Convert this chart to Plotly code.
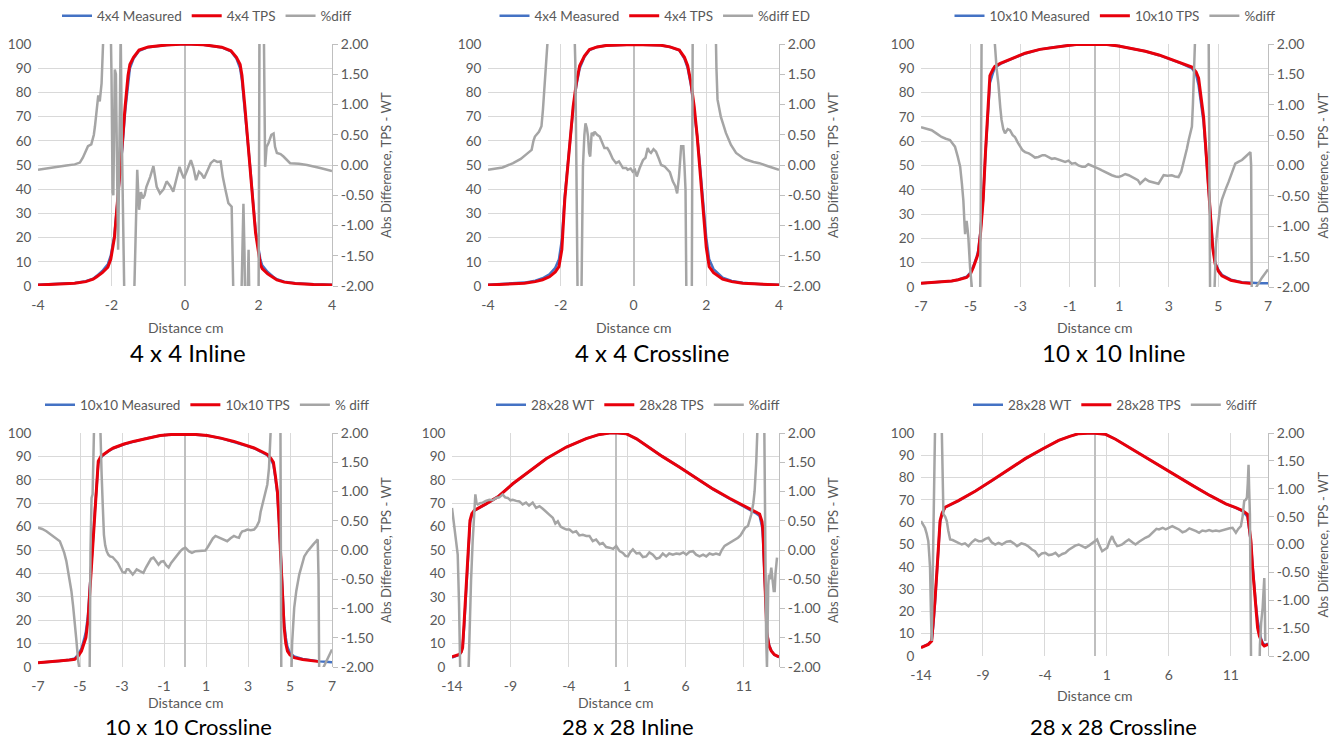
import plotly.graph_objects as go

# ---------------- DATA ----------------
# Panel 1: 4 x 4 Inline  (x cm, relative dose %)
p1_tps = [(-4.0,0.4),(-3.5,0.6),(-3.0,1.1),(-2.7,1.8),(-2.5,2.8),(-2.4,3.8),(-2.25,5.5),(-2.1,7.8),(-2.02,11),(-1.92,20),
          (-1.85,32),(-1.78,46),(-1.7,60),(-1.63,74),(-1.55,87),(-1.5,91.5),(-1.4,94.5),(-1.25,97.5),(-1.0,98.8),(-0.5,99.6),
          (0,100),(0.5,99.7),(1.0,98.7),(1.25,97.2),(1.4,94.5),(1.5,91.5),(1.55,87),(1.63,74),(1.7,62),(1.78,48),
          (1.85,34),(1.92,22),(2.0,14),(2.05,9),(2.1,7.2),(2.25,5),(2.4,3.5),(2.5,2.5),(2.7,1.6),(3.0,1.0),(3.5,0.6),(4.0,0.4)]
p1_meas = [(-4.0,0.5),(-3.5,0.7),(-3.0,1.2),(-2.7,2.0),(-2.5,3.0),(-2.4,4.2),(-2.25,6.2),(-2.1,9.0),(-2.02,12.5),(-1.92,21),
           (-1.85,32),(-1.78,45),(-1.7,58),(-1.63,72),(-1.55,85),(-1.5,90),(-1.4,94),(-1.25,97.2),(-1.0,98.7),(-0.5,99.6),
           (0,100),(0.5,99.7),(1.0,98.6),(1.25,97),(1.4,94),(1.5,90),(1.55,85),(1.63,73),(1.7,61),(1.78,48),
           (1.85,35),(1.92,23),(2.0,15.5),(2.05,11),(2.1,8.5),(2.25,5.8),(2.4,3.8),(2.5,2.8),(2.7,1.8),(3.0,1.1),(3.5,0.7),(4.0,0.5)]
p1_diff = [(-4.0,-0.08),(-3.6,-0.05),(-3.23,-0.01),(-3.0,0.01),(-2.86,0.04),(-2.78,0.12),(-2.73,0.2),(-2.64,0.31),(-2.55,0.34),
           (-2.48,0.5),(-2.45,0.64),(-2.38,1.05),(-2.36,1.15),(-2.32,1.05),(-2.27,1.35),(-2.23,2.0),(-2.2,2.6),(-2.03,2.6),
           (-2.0,1.5),(-1.97,-0.45),(-1.95,-0.5),(-1.91,1.58),(-1.88,1.5),(-1.85,0.0),(-1.82,-1.4),(-1.78,0.5),(-1.75,2.2),
           (-1.72,0.5),(-1.68,-1.2),(-1.64,-2.6),(-1.4,-2.6),(-1.36,-1.5),(-1.3,-0.08),(-1.25,-0.74),(-1.2,-0.45),(-1.15,-0.55),
           (-1.1,-0.5),(-1.05,-0.36),(-0.95,-0.2),(-0.86,-0.02),(-0.77,-0.36),(-0.68,-0.47),(-0.58,-0.4),(-0.5,-0.27),
           (-0.4,-0.35),(-0.32,-0.44),(-0.22,-0.2),(-0.15,-0.03),(-0.08,-0.15),(-0.03,-0.22),(0.05,-0.1),(0.16,0.08),
           (0.23,-0.05),(0.3,-0.25),(0.38,-0.11),(0.45,-0.15),(0.52,-0.22),(0.6,-0.1),(0.7,0.03),(0.79,0.08),(0.88,0.05),
           (0.97,0.06),(1.03,-0.2),(1.1,-0.41),(1.18,-0.63),(1.27,-0.69),(1.3,-1.5),(1.33,-2.6),(1.52,-2.6),(1.56,-1.2),
           (1.59,-0.64),(1.62,-1.5),(1.64,-2.6),(1.7,-2.2),(1.73,-1.4),(1.76,-2.6),(2.0,-2.6),(2.03,2.6),(2.14,2.6),
           (2.18,-0.03),(2.22,0.3),(2.27,0.36),(2.35,0.5),(2.41,0.52),(2.45,0.3),(2.5,0.2),(2.6,0.18),(2.68,0.14),
           (2.78,0.08),(2.86,0.03),(3.1,0.02),(3.32,0.0),(3.68,-0.05),(4.0,-0.1)]

# Panel 2: 4 x 4 Crossline
p2_tps = [(-4.0,0.4),(-3.5,0.6),(-3.0,1.1),(-2.7,1.8),(-2.5,2.6),(-2.31,3.8),(-2.15,5.8),(-2.05,8),(-1.97,15),(-1.89,35.6),
          (-1.8,52),(-1.72,66),(-1.66,74),(-1.57,84),(-1.48,91),(-1.35,95),(-1.21,97.7),(-1.0,98.8),(-0.75,99.4),(0,99.8),
          (0.75,99.5),(1.0,98.8),(1.26,97.5),(1.4,94.5),(1.49,91),(1.58,84),(1.67,74),(1.75,62),(1.82,50),(1.9,35.6),
          (2.0,16),(2.08,8),(2.2,5.5),(2.45,2.8),(2.7,1.8),(3.0,1.1),(3.5,0.6),(4.0,0.4)]
p2_meas = [(-4.0,0.5),(-3.5,0.8),(-3.0,1.4),(-2.7,2.2),(-2.5,3.2),(-2.31,4.8),(-2.15,7.5),(-2.05,11),(-1.97,19),(-1.89,37),
           (-1.8,52),(-1.72,65),(-1.66,73),(-1.57,83),(-1.48,90),(-1.35,94.6),(-1.21,97.5),(-1.0,98.8),(-0.75,99.4),(0,99.8),
           (0.75,99.5),(1.0,98.8),(1.26,97.4),(1.4,94),(1.49,90),(1.58,83),(1.67,73),(1.75,62),(1.82,51),(1.9,38),
           (2.0,20),(2.08,11),(2.2,7),(2.45,3.4),(2.7,2.1),(3.0,1.3),(3.5,0.7),(4.0,0.5)]
p2_diff = [(-4.0,-0.08),(-3.6,-0.04),(-3.31,0.03),(-3.1,0.1),(-2.94,0.18),(-2.8,0.25),(-2.75,0.4),(-2.71,0.47),(-2.6,0.55),
           (-2.53,0.64),(-2.49,0.91),(-2.44,1.3),(-2.39,1.74),(-2.35,2.0),(-2.3,2.6),(-1.64,2.6),(-1.62,2.0),(-1.6,1.7),
           (-1.57,0.0),(-1.53,-2.6),(-1.44,-2.6),(-1.39,-0.03),(-1.35,0.5),(-1.32,0.69),(-1.28,0.6),(-1.25,0.47),(-1.22,0.2),
           (-1.19,0.14),(-1.15,0.53),(-1.1,0.5),(-1.07,0.55),(-1.0,0.5),(-0.93,0.47),(-0.85,0.35),(-0.8,0.28),(-0.72,0.28),
           (-0.66,0.22),(-0.57,0.1),(-0.48,0.03),(-0.4,0.06),(-0.29,-0.05),(-0.2,-0.05),(-0.16,-0.08),(-0.08,-0.06),
           (-0.02,-0.11),(0.04,-0.08),(0.09,-0.19),(0.17,-0.05),(0.26,0.08),(0.33,0.12),(0.39,0.28),(0.44,0.22),(0.48,0.2),
           (0.55,0.26),(0.62,0.22),(0.7,0.1),(0.76,0.0),(0.85,-0.02),(0.94,-0.08),(1.0,-0.12),(1.08,-0.27),(1.15,-0.35),
           (1.2,-0.47),(1.25,-0.2),(1.31,0.31),(1.37,0.31),(1.4,0.0),(1.43,-0.41),(1.46,-2.6),(1.6,-2.6),(1.63,2.6),
           (2.25,2.6),(2.28,1.6),(2.31,1.08),(2.4,0.8),(2.54,0.53),(2.68,0.33),(2.82,0.2),(3.0,0.12),(3.09,0.09),
           (3.3,0.05),(3.46,0.03),(3.7,-0.02),(4.0,-0.08)]

# Panel 3: 10 x 10 Inline
p3_tps = [(-7,1.5),(-6.5,1.8),(-6.0,2.2),(-5.76,2.5),(-5.5,3.0),(-5.16,3.9),(-5.0,5.5),(-4.89,8),(-4.75,12),(-4.69,14),
          (-4.6,22),(-4.49,36),(-4.4,55),(-4.3,75),(-4.22,87),(-4.1,89.5),(-4.02,90.8),(-3.8,92),(-3.61,92.8),(-3.2,94.6),
          (-2.8,96.2),(-2.2,97.8),(-1.72,98.6),(-1.0,99.5),(-0.65,99.9),(0,100),(0.5,99.8),(0.97,99.2),(1.5,98.2),(2.05,97),
          (2.6,95.5),(3.12,93.5),(3.5,92.2),(3.93,90.5),(4.1,88.5),(4.2,86),(4.3,78),(4.4,70),(4.47,60),(4.57,45),
          (4.67,28.7),(4.77,16),(4.87,9.4),(5.0,6.5),(5.14,4.6),(5.5,2.8),(5.95,1.8),(6.35,1.4)]
p3_meas = [(-7,1.5),(-6.5,1.8),(-6.0,2.2),(-5.76,2.5),(-5.5,3.0),(-5.16,4.2),(-5.0,6.0),(-4.89,8.5),(-4.75,12.5),(-4.69,15),
           (-4.6,23),(-4.49,37),(-4.4,55),(-4.3,73),(-4.22,84),(-4.1,88),(-4.02,90.2),(-3.8,91.8),(-3.61,92.7),(-3.2,94.5),
           (-2.8,96.1),(-2.2,97.8),(-1.72,98.6),(-1.0,99.5),(-0.65,99.9),(0,100),(0.5,99.8),(0.97,99.2),(1.5,98.2),(2.05,97),
           (2.6,95.4),(3.12,93.4),(3.5,92),(3.93,90),(4.1,87.5),(4.2,83),(4.3,76),(4.4,68),(4.47,59),(4.57,45),
           (4.67,29.5),(4.77,17),(4.87,10),(5.0,7),(5.14,5),(5.5,3),(5.95,2),(6.35,1.6),(6.7,1.5),(7.0,1.5)]
p3_diff = [(-7.0,0.63),(-6.8,0.61),(-6.57,0.58),(-6.35,0.52),(-6.17,0.47),(-6.0,0.44),(-5.83,0.42),(-5.72,0.36),(-5.63,0.31),
           (-5.52,0.15),(-5.42,-0.02),(-5.35,-0.3),(-5.29,-0.58),(-5.24,-1.0),(-5.22,-1.13),(-5.19,-0.95),(-5.16,-0.91),
           (-5.12,-1.05),(-5.09,-1.18),(-5.02,-1.68),(-4.95,-2.0),(-4.92,-2.6),(-4.62,-2.6),(-4.58,0.0),(-4.55,2.6),
           (-4.05,2.6),(-4.02,2.0),(-3.95,1.6),(-3.88,1.35),(-3.8,0.95),(-3.75,0.75),(-3.68,0.6),(-3.61,0.53),(-3.5,0.6),
           (-3.41,0.58),(-3.3,0.5),(-3.21,0.47),(-3.1,0.38),(-3.0,0.31),(-2.9,0.25),(-2.8,0.22),(-2.65,0.2),(-2.53,0.17),
           (-2.4,0.13),(-2.26,0.14),(-2.1,0.17),(-2.0,0.17),(-1.85,0.13),(-1.72,0.11),(-1.6,0.12),(-1.45,0.1),(-1.3,0.07),
           (-1.18,0.06),(-1.05,0.08),(-0.92,0.03),(-0.78,0.04),(-0.65,0.0),(-0.5,-0.02),(-0.38,-0.02),(-0.25,0.02),
           (-0.11,0.0),(0.02,-0.02),(0.16,-0.05),(0.3,-0.08),(0.43,-0.11),(0.56,-0.13),(0.7,-0.16),(0.85,-0.18),(0.97,-0.19),
           (1.1,-0.17),(1.24,-0.14),(1.38,-0.16),(1.51,-0.19),(1.65,-0.22),(1.75,-0.24),(1.84,-0.3),(1.95,-0.25),
           (2.05,-0.22),(2.2,-0.26),(2.31,-0.27),(2.45,-0.28),(2.58,-0.3),(2.7,-0.22),(2.79,-0.16),(2.95,-0.17),
           (3.12,-0.16),(3.25,-0.18),(3.39,-0.19),(3.5,-0.1),(3.6,0.05),(3.66,0.14),(3.73,0.28),(3.8,0.42),(3.87,0.52),
           (3.93,0.64),(3.97,1.0),(4.0,1.35),(4.04,1.7),(4.07,2.0),(4.1,2.6),(4.6,2.6),(4.63,0.0),(4.67,-2.6),(4.8,-2.6),
           (4.85,-1.8),(4.9,-1.3),(4.94,-1.13),(5.0,-0.9),(5.07,-0.69),(5.14,-0.56),(5.21,-0.47),(5.3,-0.38),(5.41,-0.27),
           (5.5,-0.18),(5.6,-0.05),(5.68,0.03),(5.8,0.06),(5.95,0.09),(6.08,0.14),(6.2,0.18),(6.29,0.22),(6.32,0.0),
           (6.35,-2.6),(6.49,-2.6),(6.53,-2.0),(6.75,-1.85),(7.0,-1.71)]

# Panel 4: 10 x 10 Crossline
p4_tps = [(-7,1.8),(-6.5,2.1),(-5.96,2.6),(-5.5,3.0),(-5.25,3.3),(-5.1,4.5),(-4.93,6.8),(-4.8,10),(-4.72,12.5),(-4.62,20),
          (-4.53,32),(-4.4,52),(-4.29,68),(-4.2,80),(-4.13,88),(-4.0,90),(-3.89,90.8),(-3.6,92.6),(-3.41,93.6),(-2.9,95.3),
          (-2.46,96.4),(-1.8,97.8),(-1.18,98.9),(-0.5,99.5),(0,99.6),(0.5,99.4),(1.05,98.9),(1.7,97.8),(2.33,96.4),(2.8,95),
          (3.29,93.6),(3.6,92.3),(3.92,90.8),(4.1,89),(4.21,87.5),(4.3,82),(4.4,75),(4.48,62),(4.56,47),(4.64,30),
          (4.72,17),(4.8,10),(4.88,6.8),(5.0,5.2),(5.2,4.0),(5.6,3.2),(6.0,2.7),(6.4,2.3)]
p4_meas = [(-7,1.8),(-6.5,2.1),(-5.96,2.6),(-5.5,3.1),(-5.25,3.6),(-5.1,5.2),(-4.93,7.8),(-4.8,12),(-4.72,15),(-4.62,22),
           (-4.53,33),(-4.4,52),(-4.29,67),(-4.2,79),(-4.13,87),(-4.0,89.5),(-3.89,90.6),(-3.6,92.5),(-3.41,93.5),(-2.9,95.2),
           (-2.46,96.3),(-1.8,97.8),(-1.18,98.9),(-0.5,99.5),(0,99.6),(0.5,99.4),(1.05,98.9),(1.7,97.8),(2.33,96.3),(2.8,94.9),
           (3.29,93.5),(3.6,92.1),(3.92,90.5),(4.1,88.5),(4.21,86.5),(4.3,81),(4.4,74),(4.48,62),(4.56,48),(4.64,32),
           (4.72,19),(4.8,12.5),(4.88,8.5),(5.0,6),(5.2,4.5),(5.6,3.4),(6.0,2.8),(6.4,2.4),(6.7,2.2),(7.0,2.0)]
p4_diff = [(-7.0,0.38),(-6.8,0.36),(-6.6,0.32),(-6.4,0.27),(-6.2,0.21),(-5.96,0.15),(-5.85,0.05),(-5.75,-0.05),(-5.65,-0.19),
           (-5.53,-0.42),(-5.41,-0.7),(-5.33,-0.95),(-5.25,-1.21),(-5.17,-1.55),(-5.09,-1.89),(-5.04,-2.0),(-5.0,-2.6),
           (-4.55,-2.6),(-4.5,0.0),(-4.45,0.89),(-4.4,0.95),(-4.36,1.5),(-4.32,2.0),(-4.3,2.6),(-4.07,2.6),(-4.02,1.8),
           (-3.97,1.29),(-3.92,0.8),(-3.86,0.26),(-3.8,0.08),(-3.73,-0.02),(-3.65,-0.08),(-3.57,-0.11),(-3.45,-0.12),
           (-3.33,-0.16),(-3.2,-0.22),(-3.09,-0.3),(-2.97,-0.38),(-2.85,-0.39),(-2.77,-0.33),(-2.69,-0.33),(-2.6,-0.38),
           (-2.49,-0.42),(-2.4,-0.38),(-2.3,-0.33),(-2.15,-0.36),(-1.98,-0.39),(-1.86,-0.3),(-1.74,-0.22),(-1.62,-0.15),
           (-1.5,-0.13),(-1.38,-0.2),(-1.26,-0.25),(-1.14,-0.2),(-1.02,-0.19),(-0.9,-0.26),(-0.78,-0.3),(-0.66,-0.22),
           (-0.54,-0.16),(-0.38,-0.08),(-0.22,-0.02),(-0.1,0.02),(0.02,0.04),(0.18,-0.02),(0.33,-0.05),(0.5,-0.02),
           (0.65,-0.02),(0.8,-0.01),(0.97,-0.01),(1.1,0.06),(1.21,0.12),(1.33,0.2),(1.45,0.24),(1.57,0.22),(1.69,0.21),
           (1.85,0.17),(2.01,0.15),(2.17,0.2),(2.33,0.24),(2.45,0.22),(2.57,0.21),(2.65,0.28),(2.73,0.32),(2.85,0.33),
           (2.97,0.35),(3.13,0.34),(3.29,0.35),(3.41,0.4),(3.53,0.49),(3.6,0.65),(3.68,0.78),(3.8,0.95),(3.92,1.12),
           (4.0,1.4),(4.05,1.7),(4.11,2.0),(4.15,2.6),(4.54,2.6),(4.57,0.0),(4.59,-2.6),(5.04,-2.6),(5.1,-1.6),(5.2,-0.99),
           (5.3,-0.7),(5.44,-0.42),(5.56,-0.25),(5.68,-0.11),(5.84,-0.02),(6.0,0.04),(6.12,0.1),(6.24,0.15),(6.32,0.18),
           (6.36,-0.5),(6.4,-2.6),(6.56,-2.6),(6.6,-2.0),(6.8,-1.85),(7.0,-1.7)]

# Panel 5: 28 x 28 Inline
p5_tps = [(-14,4.3),(-13.6,4.8),(-13.37,5.4),(-13.2,6.5),(-13.09,8.3),(-12.95,20),(-12.8,32.6),(-12.6,50),(-12.46,62.6),(-12.3,65.5),
          (-12.09,66.9),(-11.09,69.7),(-10,73),(-8.8,78.3),(-7.4,83.5),(-5.94,89),(-4.2,94),(-2.51,97.6),(-1.5,99.2),(-0.51,100),
          (0.2,100),(0.91,99.7),(1.8,97.5),(2.63,94.6),(4.0,90),(5.49,85.4),(7.0,80.5),(8.34,76.1),(9.8,72),(11.2,68.3),
          (12.0,66.2),(12.34,65.4),(12.55,62),(12.63,58),(12.7,48),(12.77,39.7),(12.87,25),(12.97,14),(13.15,9),(13.34,6.9),
          (13.6,5.3),(14,4.3)]
p5_meas = [(-14,4.0),(-13.6,4.6),(-13.37,5.2),(-13.2,6.5),(-13.09,8.5),(-12.95,18),(-12.8,30),(-12.6,48),(-12.46,61.5),(-12.3,65),
           (-12.09,66.8),(-11.09,69.6),(-10,73),(-8.8,78.2),(-7.4,83.4),(-5.94,89),(-4.2,94),(-2.51,97.6),(-1.5,99.2),(-0.51,100),
           (0.2,100),(0.91,99.7),(1.8,97.5),(2.63,94.6),(4.0,90),(5.49,85.4),(7.0,80.5),(8.34,76),(9.8,71.8),(11.2,68),
           (12.0,65.8),(12.34,64.5),(12.55,60),(12.63,55),(12.7,46),(12.77,38),(12.87,25),(12.97,15),(13.15,9.5),(13.34,7),
           (13.6,5.2),(14,4.2)]
p5_diff = [(-14,0.72),(-13.9,0.55),(-13.8,0.38),(-13.65,0.15),(-13.51,-0.08),(-13.4,-0.9),(-13.31,-1.95),(-13.25,-2.6),
           (-12.66,-2.6),(-12.5,-1.2),(-12.37,-0.53),(-12.23,0.15),(-12.1,0.7),(-12.0,0.95),(-11.9,0.8),(-11.8,0.78),
           (-11.6,0.8),(-11.37,0.81),(-11.1,0.84),(-10.8,0.86),(-10.5,0.85),(-10.23,0.89),(-9.95,0.9),(-9.66,0.95),
           (-9.45,0.9),(-9.23,0.89),(-9.0,0.85),(-8.8,0.86),(-8.5,0.84),(-8.23,0.83),(-7.95,0.78),(-7.66,0.81),(-7.4,0.76),
           (-7.09,0.81),(-6.8,0.72),(-6.51,0.75),(-6.2,0.7),(-5.94,0.66),(-5.65,0.6),(-5.37,0.55),(-5.15,0.45),(-4.94,0.49),
           (-4.7,0.4),(-4.51,0.38),(-4.2,0.35),(-3.94,0.35),(-3.65,0.3),(-3.37,0.32),(-3.1,0.25),(-2.8,0.26),(-2.5,0.24),
           (-2.23,0.24),(-1.95,0.15),(-1.66,0.18),(-1.35,0.1),(-1.09,0.12),(-0.8,0.05),(-0.51,0.04),(-0.2,0.02),(0.06,0.07),
           (0.35,-0.02),(0.63,-0.05),(0.85,-0.1),(1.06,-0.11),(1.25,-0.04),(1.49,0.01),(1.8,-0.06),(2.06,-0.05),(2.35,-0.12),
           (2.63,-0.11),(2.9,-0.04),(3.2,-0.08),(3.5,-0.15),(3.77,-0.13),(4.05,-0.06),(4.34,-0.11),(4.6,-0.06),(4.91,-0.08),
           (5.2,-0.06),(5.49,-0.07),(5.8,-0.04),(6.06,-0.08),(6.35,-0.03),(6.63,-0.02),(6.9,-0.08),(7.2,-0.11),(7.5,-0.08),
           (7.77,-0.11),(8.05,-0.06),(8.34,-0.08),(8.6,-0.06),(8.91,-0.08),(9.1,0.0),(9.34,0.07),(9.6,0.1),(9.91,0.15),
           (10.2,0.18),(10.49,0.21),(10.7,0.25),(10.91,0.32),(11.1,0.38),(11.34,0.41),(11.5,0.5),(11.63,0.61),(11.8,0.8),
           (11.91,1.0),(12.05,1.5),(12.2,2.0),(12.25,2.6),(12.72,2.6),(12.8,0.0),(12.9,-1.5),(12.97,-2.0),(13.02,-1.2),
           (13.08,-0.6),(13.14,-0.42),(13.22,-0.5),(13.34,-0.3),(13.45,-0.5),(13.55,-0.7),(13.63,-0.7),(13.7,-0.4),(13.83,-0.13)]

# Panel 6: 28 x 28 Crossline
p6_tps = [(-14,3.7),(-13.7,4.5),(-13.41,5.2),(-13.14,6.7),(-13.0,15),(-12.87,25),(-12.73,36.7),(-12.6,50),(-12.46,60.7),(-12.3,64),
          (-12.06,66.7),(-10.98,69.7),(-9.6,74),(-8.28,78.7),(-7.0,83.5),(-5.59,88.5),(-4.2,92.8),(-2.89,96.7),(-2.0,98.5),(-1.27,99.7),
          (-0.2,100),(0.89,99.4),(1.7,97.2),(2.5,94.5),(3.9,90),(5.2,85.5),(6.5,81),(7.9,76.5),(9.3,72),(10.6,68.2),
          (11.4,66.5),(11.94,65.2),(12.35,63.5),(12.5,58),(12.62,51.7),(12.75,40),(12.89,29.2),(13.02,20),(13.16,12.7),(13.3,9),
          (13.43,6.7),(13.57,5.2),(13.7,4.5),(13.85,4.8),(14,5.2)]
p6_meas = [(-14,3.9),(-13.7,4.6),(-13.41,5.3),(-13.14,6.9),(-13.0,14),(-12.87,24),(-12.73,35.5),(-12.6,49),(-12.46,60),(-12.3,63.8),
           (-12.06,66.6),(-10.98,69.6),(-9.6,74),(-8.28,78.6),(-7.0,83.4),(-5.59,88.4),(-4.2,92.8),(-2.89,96.7),(-2.0,98.5),(-1.27,99.7),
           (-0.2,100),(0.89,99.4),(1.7,97.2),(2.5,94.5),(3.9,90),(5.2,85.5),(6.5,81),(7.9,76.5),(9.3,72),(10.6,68.2),
           (11.4,66.4),(11.94,65),(12.35,62.5),(12.5,57),(12.62,51),(12.75,41),(12.89,31),(13.02,23),(13.16,16),(13.3,11.5),
           (13.43,8),(13.57,6),(13.7,5),(13.85,5.2),(14,5.5)]
p6_diff = [(-14,0.42),(-13.85,0.36),(-13.68,0.3),(-13.55,0.2),(-13.41,0.06),(-13.33,-0.2),(-13.27,-0.42),(-13.2,-1.2),
           (-13.14,-1.73),(-13.07,-0.8),(-13.0,0.0),(-12.93,1.0),(-12.87,2.0),(-12.83,2.6),(-12.37,2.6),(-12.33,2.0),
           (-12.26,1.0),(-12.19,0.54),(-12.05,0.5),(-11.92,0.42),(-11.8,0.25),(-11.65,0.09),(-11.45,0.08),(-11.25,0.06),
           (-11.0,0.03),(-10.71,0.0),(-10.45,0.02),(-10.17,-0.03),(-9.9,0.04),(-9.63,0.09),(-9.35,0.06),(-9.09,0.06),
           (-8.8,0.1),(-8.55,0.12),(-8.3,0.04),(-8.01,0.0),(-7.75,0.03),(-7.47,0.0),(-7.1,0.05),(-6.79,0.06),(-6.5,0.02),
           (-6.25,-0.03),(-5.9,0.02),(-5.59,0.0),(-5.3,-0.04),(-5.05,-0.09),(-4.8,-0.12),(-4.51,-0.21),(-4.25,-0.16),
           (-3.97,-0.15),(-3.7,-0.19),(-3.43,-0.18),(-3.15,-0.15),(-2.89,-0.21),(-2.6,-0.17),(-2.35,-0.15),(-2.1,-0.1),
           (-1.81,-0.06),(-1.55,-0.02),(-1.27,0.0),(-1.0,-0.03),(-0.73,-0.06),(-0.45,-0.02),(-0.19,0.03),(0.0,0.05),
           (0.21,0.09),(0.4,-0.02),(0.62,-0.12),(0.82,-0.09),(1.02,-0.06),(1.2,0.05),(1.42,0.15),(1.6,0.05),(1.83,-0.03),
           (2.0,-0.02),(2.23,0.0),(2.5,0.05),(2.77,0.09),(3.05,0.04),(3.31,0.0),(3.6,0.05),(3.85,0.09),(4.1,0.12),
           (4.39,0.15),(4.6,0.2),(4.8,0.24),(5.0,0.28),(5.2,0.27),(5.5,0.3),(5.74,0.27),(6.0,0.3),(6.28,0.33),(6.55,0.3),
           (6.82,0.27),(7.1,0.22),(7.36,0.24),(7.65,0.29),(7.9,0.27),(8.2,0.24),(8.44,0.21),(8.7,0.25),(8.98,0.24),
           (9.25,0.26),(9.52,0.24),(9.8,0.25),(10.06,0.24),(10.35,0.26),(10.6,0.27),(10.9,0.29),(11.14,0.3),(11.3,0.25),
           (11.41,0.21),(11.6,0.28),(11.81,0.33),(11.95,0.5),(12.08,0.78),(12.2,0.8),(12.3,0.84),(12.37,1.1),(12.43,1.43),
           (12.48,1.0),(12.54,0.54),(12.58,-0.5),(12.62,-2.0),(12.65,-2.6),(13.28,-2.6),(13.35,-1.8),(13.45,-1.4),
           (13.57,-1.13),(13.65,-0.8),(13.7,-0.6),(13.75,-1.2),(13.78,-1.73)]

titles = ["4 x 4 Inline", "4 x 4 Crossline", "10 x 10 Inline", "10 x 10 Crossline", "28 x 28 Inline", "28 x 28 Crossline"]
legend_names = [["4x4 Measured", "4x4 TPS", "%diff"],
                ["4x4 Measured", "4x4 TPS", "%diff ED"],
                ["10x10 Measured", "10x10 TPS", "%diff"],
                ["10x10 Measured", "10x10 TPS", "% diff"],
                ["28x28 WT", "28x28 TPS", "%diff"],
                ["28x28 WT", "28x28 TPS", "%diff"]]
x_ticks_4 = [-4, -2, 0, 2, 4]
x_ticks_10 = [-7, -5, -3, -1, 1, 3, 5, 7]
x_ticks_28 = [-14, -9, -4, 1, 6, 11]
left_ticks = [0, 10, 20, 30, 40, 50, 60, 70, 80, 90, 100]
right_ticks = [-2.0, -1.5, -1.0, -0.5, 0.0, 0.5, 1.0, 1.5, 2.0]
right_tick_text = ["-2.00", "-1.50", "-1.00", "-0.50", "0.00", "0.50", "1.00", "1.50", "2.00"]
x_title = "Distance cm"
right_title = "Abs Difference, TPS - WT"

# ---------------- LAYOUT (pixel boxes in the 1338x748 page) ----------------
# The page body keeps an 8 px margin, so the figure occupies 1322 x 732 starting at (8, 8).
OFF = 8
W, H = 1322, 732
FONT = "Lato"
TXT = "#595959"
GRID = "#D9D9D9"
AX = "#BFBFBF"

panels = [
    dict(tps=p1_tps, meas=p1_meas, diff=p1_diff, box=(38, 332, 44, 286), xr=[-4, 4], xt=x_ticks_4,
         leg=(207, 16), xlab_y=327, title=(188, 352), tsize=24),
    dict(tps=p2_tps, meas=p2_meas, diff=p2_diff, box=(488, 779, 44, 286), xr=[-4, 4], xt=x_ticks_4,
         leg=(655, 16), xlab_y=327, title=(652, 352), tsize=24),
    dict(tps=p3_tps, meas=p3_meas, diff=p3_diff, box=(921, 1268, 44, 287), xr=[-7, 7], xt=x_ticks_10,
         leg=(1115, 16), xlab_y=327, title=(1114, 352), tsize=24),
    dict(tps=p4_tps, meas=p4_meas, diff=p4_diff, box=(38, 332, 433, 667), xr=[-7, 7], xt=x_ticks_10,
         leg=(207, 405), xlab_y=702, title=(188, 726), tsize=22),
    dict(tps=p5_tps, meas=p5_meas, diff=p5_diff, box=(452, 779, 433, 667), xr=[-14, 14], xt=x_ticks_28,
         leg=(638, 405), xlab_y=702, title=(628, 726), tsize=22),
    dict(tps=p6_tps, meas=p6_meas, diff=p6_diff, box=(921, 1268, 433, 656), xr=[-14, 14], xt=x_ticks_28,
         leg=(1115, 405), xlab_y=695, title=(1113, 726), tsize=22),
]

def px(x):
    return (x - OFF) / W

def py(y):
    return 1 - (y - OFF) / H

fig = go.Figure()
layout = dict(width=W, height=H, margin=dict(l=0, r=0, t=0, b=0, autoexpand=False), paper_bgcolor="white",
              plot_bgcolor="white", font=dict(family=FONT, color=TXT, size=13), annotations=[])

for i, p in enumerate(panels, start=1):
    xa = "x" if i == 1 else f"x{i}"
    ya_l = "y" if i == 1 else f"y{2*i-1}"
    ya_r = f"y{2*i}"
    lg = "legend" if i == 1 else f"legend{i}"
    names = legend_names[i - 1]
    x0, x1, y0, y1 = p["box"]

    mx, my = zip(*p["meas"])
    tx, ty = zip(*p["tps"])
    dx, dy = zip(*p["diff"])
    fig.add_trace(go.Scatter(x=mx, y=my, mode="lines", name=names[0], line=dict(color="#4472C4", width=2.5),
                             xaxis=xa, yaxis=ya_l, legend=lg))
    fig.add_trace(go.Scatter(x=tx, y=ty, mode="lines", name=names[1], line=dict(color="#E8000B", width=3),
                             xaxis=xa, yaxis=ya_l, legend=lg))
    fig.add_trace(go.Scatter(x=dx, y=dy, mode="lines", name=names[2], line=dict(color="#A5A5A5", width=2.5),
                             xaxis=xa, yaxis=ya_r, legend=lg))

    xkey = "xaxis" if i == 1 else f"xaxis{i}"
    ylkey = "yaxis" if i == 1 else f"yaxis{2*i-1}"
    yrkey = f"yaxis{2*i}"
    layout[xkey] = dict(domain=[px(x0), px(x1)], range=p["xr"], anchor=ya_l, automargin=False,
                        tickmode="array", tickvals=p["xt"], ticktext=[str(v) for v in p["xt"]],
                        showgrid=True, gridcolor=GRID, gridwidth=1,
                        zeroline=True, zerolinecolor=AX, zerolinewidth=1.5,
                        showline=False, ticks="outside", ticklen=6, tickcolor="rgba(0,0,0,0)",
                        tickfont=dict(family=FONT, size=14, color=TXT), fixedrange=True)
    layout[ylkey] = dict(domain=[py(y1), py(y0)], range=[0, 100], anchor=xa, automargin=False,
                         tickmode="array", tickvals=left_ticks, ticktext=[str(v) for v in left_ticks],
                         showgrid=True, gridcolor=GRID, gridwidth=1, zeroline=False,
                         showline=False, ticks="outside", ticklen=3, tickcolor="rgba(0,0,0,0)",
                         tickfont=dict(family=FONT, size=13.5, color=TXT), fixedrange=True)
    layout[yrkey] = dict(overlaying=ya_l, side="right", anchor=xa, range=[-2, 2], automargin=False,
                         tickmode="array", tickvals=right_ticks, ticktext=right_tick_text,
                         showgrid=False, zeroline=False, showline=True, linecolor=AX, linewidth=1,
                         ticks="outside", ticklen=5, tickcolor=AX,
                         tickfont=dict(family=FONT, size=14, color=TXT), fixedrange=True)
    layout[lg] = dict(orientation="h", x=px(p["leg"][0]), y=py(p["leg"][1]), xanchor="center", yanchor="middle",
                      bgcolor="rgba(0,0,0,0)", font=dict(family=FONT, size=13.5, color=TXT),
                      itemwidth=30, tracegroupgap=0)

    cx = (x0 + x1) / 2
    cy = (y0 + y1) / 2
    layout["annotations"].append(dict(text=x_title, x=px(cx), y=py(p["xlab_y"]), xref="paper", yref="paper",
                                      showarrow=False, xanchor="center", yanchor="middle",
                                      font=dict(family=FONT, size=14, color=TXT)))
    layout["annotations"].append(dict(text=right_title, x=px(x1 + 54), y=py(cy), xref="paper", yref="paper",
                                      showarrow=False, xanchor="center", yanchor="middle", textangle=-90,
                                      font=dict(family=FONT, size=13, color=TXT)))
    layout["annotations"].append(dict(text=titles[i - 1], x=px(p["title"][0]), y=py(p["title"][1]),
                                      xref="paper", yref="paper", showarrow=False, xanchor="center",
                                      yanchor="middle", font=dict(family=FONT, size=p["tsize"], color="#000000")))

fig.update_layout(**layout)
fig.write_html("out.html", config={"displayModeBar": False})
